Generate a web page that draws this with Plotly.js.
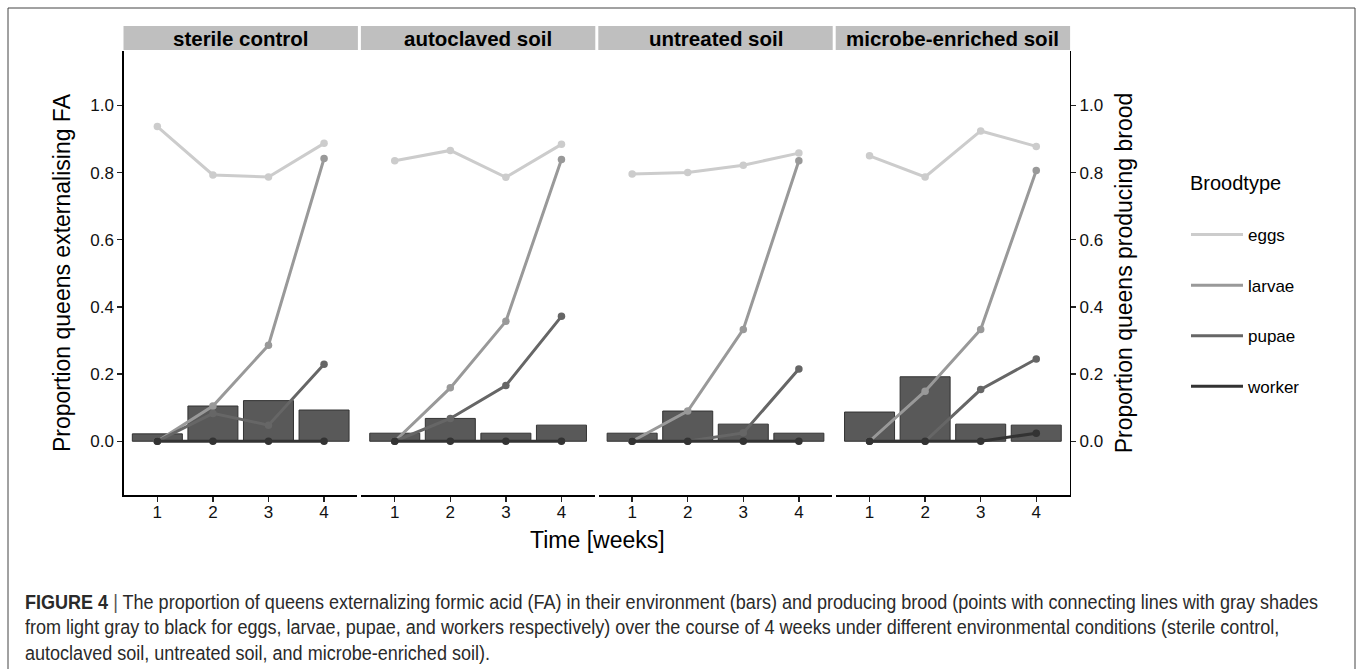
<!DOCTYPE html>
<html>
<head>
<meta charset="utf-8">
<script src="https://cdn.plot.ly/plotly-3.0.1.min.js"></script>
<style>
  html, body { margin: 0; padding: 0; background: #fff; }
  #wrap { position: relative; width: 1362px; height: 669px; overflow: hidden; }
  #chart { position: absolute; left: 0; top: 0; width: 1362px; height: 669px; }
  .cap { position: absolute; left: 25px; white-space: nowrap; line-height: 26px; height: 26px;
         font-family: "Liberation Sans", Arial, sans-serif;
         font-size: 19.5px; color: #2a2a2a; transform-origin: 0 50%; z-index: 5; }
  .cap b { font-weight: bold; }
  .cap .bar { color: #555; }
</style>
</head>
<body>
<div id="wrap">
  <div id="chart"></div>
  <div class="cap" id="cap1" style="top:589px;"><b>FIGURE 4</b> <span class="bar">|</span> The proportion of queens externalizing formic acid (FA) in their environment (bars) and producing brood (points with connecting lines with gray shades</div>
  <div class="cap" id="cap2" style="top:614px;">from light gray to black for eggs, larvae, pupae, and workers respectively) over the course of 4 weeks under different environmental conditions (sterile control,</div>
  <div class="cap" id="cap3" style="top:640px;">autoclaved soil, untreated soil, and microbe-enriched soil).</div>
</div>
<script>
// ---------------- data ----------------
const weeks = [1, 2, 3, 4];
const conditions = ['sterile control', 'autoclaved soil', 'untreated soil', 'microbe-enriched soil'];
const broodTypes = ['eggs', 'larvae', 'pupae', 'worker'];

// proportion of queens externalising FA (bars)
const faSterile    = [0.022, 0.105, 0.121, 0.093];
const faAutoclaved = [0.024, 0.068, 0.024, 0.048];
const faUntreated  = [0.024, 0.090, 0.051, 0.024];
const faMicrobe    = [0.087, 0.192, 0.051, 0.048];

// proportion of queens producing brood (points + lines)
const eggsSterile    = [0.937, 0.793, 0.787, 0.887];
const larvaeSterile  = [0.000, 0.105, 0.286, 0.842];
const pupaeSterile   = [0.000, 0.083, 0.048, 0.229];
const workerSterile  = [0.000, 0.000, 0.000, 0.000];

const eggsAutoclaved   = [0.835, 0.866, 0.786, 0.884];
const larvaeAutoclaved = [0.000, 0.159, 0.357, 0.839];
const pupaeAutoclaved  = [0.000, 0.068, 0.166, 0.372];
const workerAutoclaved = [0.000, 0.000, 0.000, 0.000];

const eggsUntreated   = [0.796, 0.800, 0.822, 0.858];
const larvaeUntreated = [0.000, 0.090, 0.333, 0.835];
const pupaeUntreated  = [0.000, 0.000, 0.025, 0.215];
const workerUntreated = [0.000, 0.000, 0.000, 0.000];

const eggsMicrobe   = [0.850, 0.787, 0.924, 0.878];
const larvaeMicrobe = [0.000, 0.149, 0.333, 0.806];
const pupaeMicrobe  = [0.000, 0.000, 0.154, 0.245];
const workerMicrobe = [0.000, 0.000, 0.000, 0.024];

const yTickVals = [0, 0.2, 0.4, 0.6, 0.8, 1.0];
const yTickText = ['0.0', '0.2', '0.4', '0.6', '0.8', '1.0'];

// ---------------- build ----------------
const faByPanel = [faSterile, faAutoclaved, faUntreated, faMicrobe];
const broodByPanel = [
  [eggsSterile, larvaeSterile, pupaeSterile, workerSterile],
  [eggsAutoclaved, larvaeAutoclaved, pupaeAutoclaved, workerAutoclaved],
  [eggsUntreated, larvaeUntreated, pupaeUntreated, workerUntreated],
  [eggsMicrobe, larvaeMicrobe, pupaeMicrobe, workerMicrobe]
];
const broodColors = ['#cccccc', '#999999', '#666666', '#333333'];

const W = 1362, H = 669;
const px = v => v / W;
const py = v => 1 - v / H;
const FONT = '"Liberation Sans", Arial, Helvetica, sans-serif';

const panelLeft = 124, panelW = 233.4, gap = 4.0;
const plotTop = 51, plotBottom = 495;
const yRange = [-0.160, 1.162];

const traces = [];
const layout = {
  width: W, height: H,
  margin: {l: 0, r: 0, t: 0, b: 0},
  paper_bgcolor: '#ffffff', plot_bgcolor: 'rgba(0,0,0,0)',
  font: {family: FONT, color: '#000', size: 17},
  showlegend: true,
  barmode: 'overlay',
  legend: {
    x: px(1186), y: py(217), xanchor: 'left', yanchor: 'top',
    font: {size: 17, color: '#000', family: FONT},
    tracegroupgap: 25.5, itemwidth: 52,
    bgcolor: 'rgba(0,0,0,0)'
  },
  shapes: [], annotations: []
};

for (let p = 0; p < 4; p++) {
  const sfx = p === 0 ? '' : String(p + 1);
  const xa = 'x' + sfx, ya = 'y' + sfx;
  const x0 = panelLeft + p * (panelW + gap), x1 = x0 + panelW;

  layout['xaxis' + sfx] = {
    domain: [px(x0), px(x1)], anchor: ya, range: [0.4, 4.6],
    tickvals: weeks, ticktext: weeks.map(String), ticks: 'outside', ticklen: 5, tickwidth: 1.3,
    tickcolor: '#222', showline: true, linecolor: '#000', linewidth: 1.6,
    showgrid: false, zeroline: false, fixedrange: true, ticklabelstandoff: -4,
    tickfont: {size: 17, color: '#111', family: FONT}
  };
  const yax = {
    domain: [py(plotBottom), py(plotTop)], anchor: xa, range: yRange,
    tickvals: yTickVals, ticktext: yTickText, showgrid: false, zeroline: false, fixedrange: true,
    tickfont: {size: 17, color: '#111', family: FONT}
  };
  if (p === 0) {
    Object.assign(yax, {side: 'left', showline: true, linecolor: '#000', linewidth: 1.6,
      ticks: 'outside', ticklen: 5, tickwidth: 1.3, tickcolor: '#222',
      title: {text: 'Proportion queens externalising FA', font: {size: 23, family: FONT, color: '#000'}, standoff: 13}});
  } else if (p === 3) {
    Object.assign(yax, {side: 'right', showline: true, linecolor: '#000', linewidth: 1.6,
      ticks: 'outside', ticklen: 5, tickwidth: 1.3, tickcolor: '#222',
      title: {text: 'Proportion queens producing brood', font: {size: 23, family: FONT, color: '#000'}, standoff: 13}});
  } else {
    Object.assign(yax, {showticklabels: false, showline: false, ticks: ''});
  }
  layout['yaxis' + sfx] = yax;

  // strip
  layout.shapes.push({type: 'rect', xref: 'paper', yref: 'paper', x0: px(x0 - 0.5), x1: px(x1 + 0.5),
    y0: py(50), y1: py(26), fillcolor: '#bfbfbf', line: {width: 0}, layer: 'below'});
  layout.annotations.push({xref: 'paper', yref: 'paper', x: px((x0 + x1) / 2), y: py(38.5),
    text: '<b>' + conditions[p] + '</b>', showarrow: false, xanchor: 'center', yanchor: 'middle',
    font: {size: 20.5, color: '#000', family: FONT}});

  // bars
  traces.push({type: 'bar', x: weeks, y: faByPanel[p], width: 0.9, xaxis: xa, yaxis: ya,
    marker: {color: '#595959', line: {color: '#333333', width: 1}}, showlegend: false,
    name: 'FA', hoverinfo: 'y'});

  // brood lines + points
  for (let b = 0; b < 4; b++) {
    traces.push({type: 'scatter', mode: 'lines', x: weeks, y: broodByPanel[p][b], xaxis: xa, yaxis: ya,
      line: {color: broodColors[b], width: 3}, name: broodTypes[b], legendgroup: broodTypes[b],
      showlegend: p === 0});
    traces.push({type: 'scatter', mode: 'markers', x: weeks, y: broodByPanel[p][b], xaxis: xa, yaxis: ya,
      marker: {color: broodColors[b], size: 7.5}, name: broodTypes[b], legendgroup: broodTypes[b],
      showlegend: false});
  }
}

// legend title
layout.annotations.push({xref: 'paper', yref: 'paper', x: px(1188), y: py(183),
  text: 'Broodtype', showarrow: false, xanchor: 'left', yanchor: 'middle',
  font: {size: 20, color: '#000', family: FONT}});

// shared x-axis title
layout.annotations.push({xref: 'paper', yref: 'paper', x: px(597), y: py(540),
  text: 'Time [weeks]', showarrow: false, xanchor: 'center', yanchor: 'middle',
  font: {size: 23, color: '#000', family: FONT}});

// figure frame
layout.shapes.push({type: 'rect', xref: 'paper', yref: 'paper', x0: px(8), x1: px(1355),
  y0: py(700), y1: py(8), line: {color: '#444', width: 1}, fillcolor: 'rgba(0,0,0,0)'});

Plotly.newPlot('chart', traces, layout, {staticPlot: true, displayModeBar: false}).then(() => {
  // fit caption width to reference (line 3 ends near x=490)
  const c3 = document.getElementById('cap3');
  const w3 = c3.getBoundingClientRect().width;
  const s = 465 / w3;
  ['cap1', 'cap2', 'cap3'].forEach(id => {
    document.getElementById(id).style.transform = 'scaleX(' + s + ')';
  });
});
</script>
</body>
</html>
